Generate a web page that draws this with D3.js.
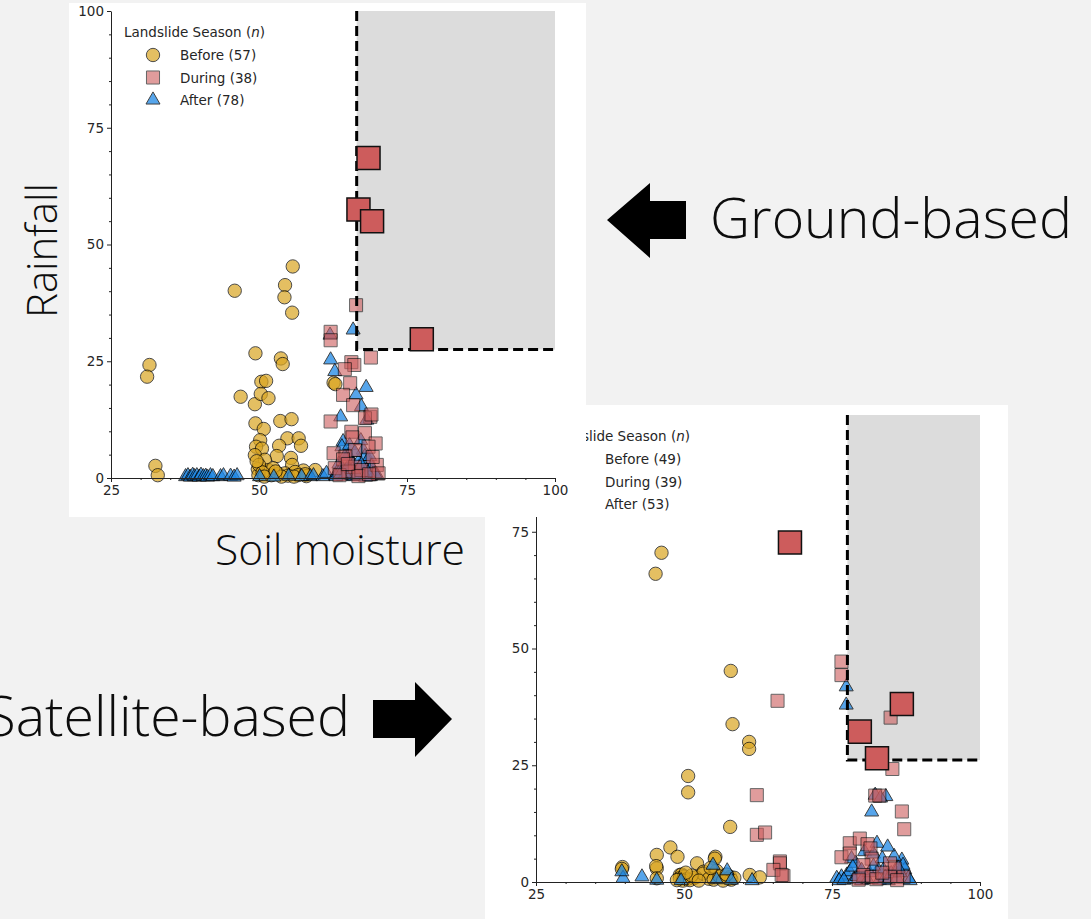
<!DOCTYPE html>
<html>
<head>
<meta charset="utf-8">
<script src="https://cdn.jsdelivr.net/npm/d3@7"></script>
<style>
  body { margin: 0; background: #f2f2f2; }
  svg { display: block; font-family: "DejaVu Sans", sans-serif; }
</style>
</head>
<body>
<svg id="fig" width="1091" height="919"></svg>
<script>
// ---- data ----
const seasons = ["Before", "During", "After"];
const groundCounts = [57, 38, 78];
const satCounts = [49, 39, 53];
const xTicks = [25, 50, 75, 100];
const yTicks = [0, 25, 50, 75, 100];
const minorTicks = d3.range(25, 101, 5);
const yMinor = d3.range(0, 101, 5);

// ground-based: [soil moisture, rainfall]
const groundBefore = [[31.5,24.2],[31.1,21.7],[32.5,2.6],[32.9,0.6],[45.9,40.1],[46.9,17.4],[49.4,26.7],[49.3,15.8],[49.4,11.7],[50.8,10.5],[50.4,20.6],[51.2,20.8],[50.3,18.0],[51.6,17.1],[55.7,45.3],[54.4,41.3],[54.3,38.7],[55.6,35.4],[53.7,25.6],[54.0,24.4],[53.6,12.2],[55.5,12.6],[54.8,8.5],[56.7,8.5],[57.1,6.9],[53.4,6.9],[50.2,8.1],[49.5,6.7],[50.5,6.3],[49.3,4.9],[53.0,4.7],[55.4,4.3],[55.6,2.8],[51.0,3.9],[49.8,1.9],[51.6,1.7],[59.5,1.7],[57.5,1.6],[53.3,0.9],[54.4,1.0],[56.1,1.3],[49.9,0.6],[52.1,0.6],[54.9,0.5],[56.6,0.6],[52.4,2.1],[62.6,20.4],[62.9,20.1],[50.0,2.8],[50.6,1.2],[53.8,0.3],[55.9,0.3],[58.0,0.4],[50.9,0.3],[52.8,1.4],[49.6,3.6],[57.8,0.8]];
const groundDuring = [[66.4,37.0],[62.1,31.3],[62.1,29.5],[68.9,25.8],[65.6,24.8],[66.1,24.2],[64.5,23.3],[65.4,20.3],[64.2,17.8],[65.9,15.6],[62.1,12.1],[68.8,13.1],[67.9,12.8],[69.0,13.6],[65.6,9.9],[65.8,8.7],[67.9,9.6],[69.7,7.4],[68.5,6.7],[62.6,5.3],[66.2,6.0],[64.6,4.6],[64.2,4.0],[69.9,2.8],[62.8,2.1],[66.2,2.4],[70.2,1.0],[65.1,1.4],[67.3,1.7],[63.6,0.6],[66.8,0.4],[68.6,0.8],[65.0,3.0],[69.2,4.5]];
const groundAfter = [[37.6,0.3],[38.0,0.5],[38.4,0.2],[38.8,0.6],[39.1,0.3],[39.5,0.5],[39.9,0.2],[40.2,0.6],[40.6,0.3],[41.0,0.4],[41.3,0.2],[41.8,0.5],[42.2,0.3],[43.5,0.3],[44.0,0.5],[45.2,0.4],[45.8,0.2],[46.3,0.5],[50.1,0.3],[52.5,0.2],[55.0,0.4],[57.2,0.3],[58.7,0.3],[59.2,0.5],[60.8,0.3],[61.4,1.0],[65.9,31.7],[62.0,30.6],[62.1,25.3],[62.8,22.8],[68.1,19.4],[66.4,17.8],[67.3,15.3],[63.8,13.1],[68.2,12.4],[64.2,7.8],[67.6,6.0],[65.1,4.9],[68.5,3.9],[64.8,1.7],[68.2,1.7],[63.7,1.7],[65.9,2.8],[67.9,4.6],[68.7,4.6],[64.5,4.6],[64.0,6.7],[62.9,0.5],[63.5,3.0],[64.3,0.4],[65.5,0.6],[66.4,1.0],[67.0,0.4],[67.8,0.8],[68.8,0.3],[69.3,1.5],[70.0,0.5],[66.8,3.5],[65.3,7.0],[67.2,8.0],[63.2,1.2],[64.0,2.2],[65.2,1.0],[66.0,0.3],[66.9,2.0],[67.5,1.2],[68.0,0.2],[69.0,2.4],[69.6,0.9],[63.0,0.3],[64.6,0.8],[65.8,1.8],[66.5,0.6],[67.3,2.8],[68.4,1.1],[63.8,0.9],[65.0,2.3],[66.2,5.5]];
const groundHighlight = [[68.5,68.5],[66.8,57.5],[69.1,55.0],[77.5,29.7]];
const groundThreshold = [66.5, 27.5];

// satellite-based
const satBefore = [[46.2,70.5],[45.2,66.0],[57.9,45.2],[58.2,33.8],[61.0,30.0],[61.0,28.5],[50.7,22.7],[50.7,19.2],[57.8,11.8],[47.7,7.4],[45.4,5.8],[48.9,5.4],[55.3,5.4],[55.2,5.0],[52.2,4.0],[39.6,3.2],[39.5,2.8],[45.4,2.9],[45.3,3.4],[53.3,2.2],[55.2,1.8],[55.5,2.4],[49.3,1.5],[49.6,1.6],[57.8,1.1],[61.1,1.5],[62.8,1.0],[51.6,0.8],[45.4,0.8],[49.3,0.8],[50.0,1.2],[50.5,0.6],[51.0,0.4],[52.0,1.0],[53.2,1.8],[54.2,0.7],[55.0,0.5],[56.0,1.2],[57.5,0.7],[58.0,0.5],[58.5,0.9],[49.8,0.3],[51.3,1.4],[52.5,0.3],[56.6,0.3],[50.3,2.0],[48.8,0.4],[57.2,1.6],[54.5,3.0]];
const satDuring = [[76.6,47.2],[76.6,44.3],[65.8,38.8],[84.9,35.2],[85.2,24.2],[82.3,18.5],[83.0,18.5],[86.8,15.1],[87.2,11.3],[62.3,18.6],[62.3,10.1],[63.7,10.6],[66.2,4.4],[66.8,1.3],[66.2,4.0],[65.1,2.6],[66.5,1.5],[78.0,8.3],[79.7,9.3],[81.0,8.1],[81.5,7.2],[76.6,5.3],[81.7,5.0],[80.3,3.6],[84.8,4.0],[85.6,2.9],[80.3,1.5],[81.7,1.1],[84.8,1.1],[87.1,1.1],[78.0,6.1],[79.5,0.5],[82.5,0.6],[86.0,0.4],[83.5,2.0]];
const satAfter = [[77.4,41.8],[77.4,37.9],[81.7,15.0],[84.1,18.3],[82.3,18.6],[83.2,18.0],[82.6,8.3],[78.3,5.0],[86.8,4.7],[75.8,0.8],[76.6,1.1],[77.5,1.5],[78.0,2.2],[82.8,2.6],[83.7,2.6],[85.6,2.2],[87.3,2.6],[87.9,0.8],[39.7,0.8],[39.5,2.2],[42.9,1.1],[54.9,3.6],[57.3,2.4],[76.2,0.3],[77.0,0.4],[78.7,0.5],[79.2,1.2],[80.0,0.3],[81.0,0.5],[81.3,2.0],[82.0,3.4],[83.0,0.4],[84.0,1.0],[84.5,0.3],[85.0,1.8],[86.0,0.8],[86.5,2.0],[87.0,3.6],[88.2,0.3],[79.0,4.0],[80.5,6.5],[82.0,6.0],[83.5,5.0],[85.5,5.5],[86.2,3.0],[84.4,7.5],[80.0,2.5],[78.5,3.2],[45.4,0.4],[49.5,0.3],[55.5,0.5],[58.0,0.4],[61.5,0.3]];
const satHighlight = [[67.9,72.7],[79.7,32.2],[82.6,26.5],[86.8,38.1]];
const satThreshold = [77.6, 26.1];

// ---- styles ----
const marker = {
  Before: { type: d3.symbolCircle, size: 140, fill: "goldenrod", alpha: 0.7 },
  During: { type: d3.symbolSquare, size: 170, fill: "indianred", alpha: 0.6 },
  After:  { type: d3.symbolTriangle, size: 85, fill: "#1e88e5", alpha: 0.75 }
};

const svg = d3.select("#fig");

function drawPanel(cfg) {
  const g = svg.append("g");
  g.append("rect")
    .attr("x", cfg.box[0]).attr("y", cfg.box[1])
    .attr("width", cfg.box[2]).attr("height", cfg.box[3])
    .attr("fill", "#fff");

  const x = d3.scaleLinear().domain([25, 100]).range([cfg.left, cfg.left + 444]);
  const y = d3.scaleLinear().domain([0, 100]).range([cfg.top + 467, cfg.top]);

  // threshold zone
  const [tx, ty] = cfg.threshold;
  g.append("rect")
    .attr("x", x(tx)).attr("y", y(100))
    .attr("width", x(100) - x(tx)).attr("height", y(ty) - y(100))
    .attr("fill", "#dcdcdc");

  const drawSet = (data, key) => {
    const m = marker[key];
    g.append("g").selectAll("path")
      .data(data)
      .join("path")
      .attr("d", d3.symbol(m.type, m.size))
      .attr("transform", d => `translate(${x(d[0])},${y(d[1])})`)
      .attr("fill", m.fill)
      .attr("stroke", "#000")
      .attr("stroke-width", 1)
      .attr("opacity", m.alpha);
  };
  drawSet(cfg.before, "Before");
  drawSet(cfg.after, "After");
  drawSet(cfg.during, "During");

  g.append("path")
    .attr("d", d3.line()([[x(tx), y(100)], [x(tx), y(ty)], [x(100), y(ty)]]))
    .attr("fill", "none")
    .attr("stroke", "#000")
    .attr("stroke-width", 3)
    .attr("stroke-dasharray", "10,5");

  g.append("g").selectAll("path")
    .data(cfg.highlight)
    .join("path")
    .attr("d", d3.symbol(d3.symbolSquare, 530))
    .attr("transform", d => `translate(${x(d[0])},${y(d[1])})`)
    .attr("fill", "indianred")
    .attr("stroke", "#111")
    .attr("stroke-width", 1.5);

  // axes
  g.append("g").attr("transform", `translate(0,${y(0)})`)
    .call(d3.axisBottom(x).tickValues(xTicks).tickSize(4).tickSizeOuter(0).tickPadding(3));
  g.append("g").attr("transform", `translate(0,${y(0)})`)
    .call(d3.axisBottom(x).tickValues(minorTicks.filter(v => !xTicks.includes(v))).tickSize(2).tickFormat(""))
    .select(".domain").remove();
  g.append("g").attr("transform", `translate(${x(25)},0)`)
    .call(d3.axisLeft(y).tickValues(yTicks).tickSize(4).tickSizeOuter(0).tickPadding(3));
  g.append("g").attr("transform", `translate(${x(25)},0)`)
    .call(d3.axisLeft(y).tickValues(yMinor.filter(v => !yTicks.includes(v))).tickSize(2).tickFormat(""))
    .select(".domain").remove();
  g.selectAll(".tick text").attr("font-size", 13.5).attr("fill", "#262626")
    .attr("font-family", "DejaVu Sans");
  g.selectAll(".domain, .tick line").attr("stroke", "#222");

  // legend
  const lg = g.append("g").attr("transform", `translate(${cfg.legend[0]},${cfg.legend[1]})`);
  const title = lg.append("text").attr("y", 5).attr("font-size", 13.5).attr("fill", "#262626");
  title.append("tspan").text("Landslide Season (");
  title.append("tspan").attr("font-style", "italic").text("n");
  title.append("tspan").text(")");
  seasons.forEach((s, i) => {
    const m = marker[s];
    const cy = [23, 45.5, 68][i];
    lg.append("path")
      .attr("d", d3.symbol(m.type, m.size))
      .attr("transform", `translate(29,${cy})`)
      .attr("fill", m.fill).attr("stroke", "#000").attr("opacity", m.alpha);
    lg.append("text").attr("x", 56).attr("y", cy + 5)
      .attr("font-size", 13.5).attr("fill", "#262626")
      .text(`${s} (${cfg.counts[i]})`);
  });
}

// satellite panel first: the ground panel lies over it
drawPanel({
  box: [485, 405, 523, 520], left: 536, top: 415,
  threshold: satThreshold, legend: [549, 436], counts: satCounts,
  before: satBefore, during: satDuring, after: satAfter, highlight: satHighlight
});
drawPanel({
  box: [69, 3, 517, 514], left: 111, top: 11,
  threshold: groundThreshold, legend: [124, 32], counts: groundCounts,
  before: groundBefore, during: groundDuring, after: groundAfter, highlight: groundHighlight
});

// slide annotations
const big = svg.append("g").attr("font-family", "'Open Sans', sans-serif")
  .attr("font-weight", 300).attr("fill", "#0d0d0d");

function fitText(sel, target) {
  const w = sel.node().getComputedTextLength();
  sel.attr("font-size", 40 * target / w);
}

fitText(big.append("text").attr("x", 710).attr("y", 238).attr("font-size", 40).text("Ground-based"), 362);
fitText(big.append("text").attr("x", 215).attr("y", 565).attr("font-size", 40).text("Soil moisture"), 250);
fitText(big.append("text").attr("transform", "translate(57,318) rotate(-90)").attr("font-size", 40).text("Rainfall"), 135);
// in the slide this label runs off the left edge
const sat = big.append("text").attr("x", 350).attr("y", 736).attr("text-anchor", "end")
  .text("Satellite-based");
sat.attr("font-size", big.select("text").attr("font-size"));

// block arrows
const arrowL = [[607, 220], [650, 183], [650, 201], [686, 201], [686, 239], [650, 239], [650, 258]];
const arrowR = [[452, 719], [415, 682], [415, 700], [373, 700], [373, 738], [415, 738], [415, 757]];
svg.append("path").attr("d", d3.line()(arrowL) + "Z").attr("fill", "#000");
svg.append("path").attr("d", d3.line()(arrowR) + "Z").attr("fill", "#000");
</script>
</body>
</html>
